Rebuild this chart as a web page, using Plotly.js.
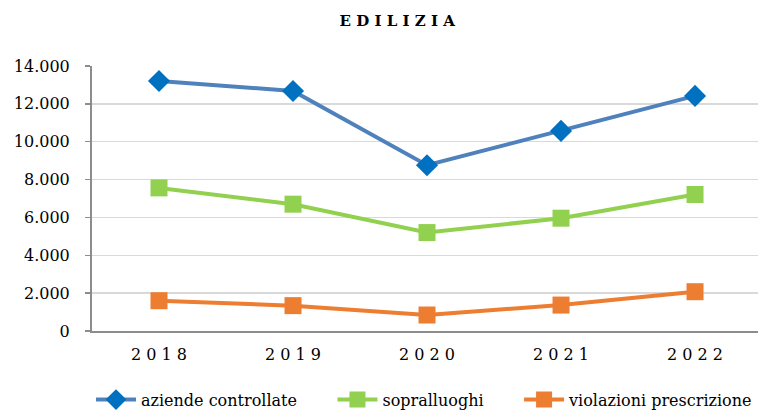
<!DOCTYPE html>
<html><head><meta charset="utf-8">
<script src="https://cdn.plot.ly/plotly-3.0.1.min.js"></script>
<style>html,body{margin:0;padding:0;background:#fff}#chart{width:758px;height:412px}</style>
</head><body><div id="chart"></div>
<script>
const years = ['2018','2019','2020','2021','2022'];
const yearLabels = ['2 0 1 8','2 0 1 9','2 0 2 0','2 0 2 1','2 0 2 2'];
const seriesNames = ['aziende controllate', 'sopralluoghi', 'violazioni prescrizione'];
const aziende = [13210, 12680, 8760, 10570, 12420];
const sopralluoghi = [7560, 6700, 5200, 5960, 7210];
const violazioni = [1600, 1340, 845, 1370, 2075];
const yTicks = [0, 2000, 4000, 6000, 8000, 10000, 12000, 14000];

const font = 'DejaVu Serif';
const pad = n => '\u00a0'.repeat(n);
const traces = [
  {x: years, y: aziende, name: seriesNames[0] + pad(6), mode: 'lines+markers',
   line: {color: '#4f81bd', width: 4}, marker: {symbol: 'diamond', size: 17, color: '#0070c0'}},
  {x: years, y: sopralluoghi, name: seriesNames[1] + pad(6), mode: 'lines+markers',
   line: {color: '#92d050', width: 4}, marker: {symbol: 'square', size: 17, color: '#92d050'}},
  {x: years, y: violazioni, name: seriesNames[2], mode: 'lines+markers',
   line: {color: '#ed7d31', width: 4}, marker: {symbol: 'square', size: 17, color: '#ed7d31'}}
];
const layout = {
  width: 758, height: 412,
  margin: {l: 92, r: 0, t: 66, b: 81},
  separators: ',.',
  paper_bgcolor: '#fff', plot_bgcolor: '#fff',
  font: {family: font, color: '#000', size: 16},
  title: {text: '<b>E D I L I Z I A</b>', x: 0.524, xanchor: 'center', y: 0.95, yanchor: 'middle',
          font: {family: font, size: 15, color: '#000'}},
  showlegend: true,
  legend: {orientation: 'h', x: 0.022, xanchor: 'left', yref: 'container', y: 0.03, yanchor: 'middle',
           font: {family: font, size: 16, color: '#000'}, itemwidth: 40, tracegroupgap: 0},
  xaxis: {type: 'category', range: [-0.5, 4.47], tickvals: years, ticktext: yearLabels,
          showgrid: false, showline: true, linecolor: '#8c8c8c', linewidth: 2, ticks: '',
          tickfont: {family: font, size: 16, color: '#000'}, ticklabelstandoff: 8, zeroline: false, fixedrange: true},
  yaxis: {range: [0, 14000], tickvals: yTicks, tickformat: ',d', showgrid: true, gridcolor: '#d9d9d9',
          gridwidth: 1.5, showline: true, linecolor: '#8c8c8c', linewidth: 2, ticks: 'outside', ticklen: 5,
          tickcolor: '#8c8c8c', tickwidth: 1.5, zeroline: false, ticklabelstandoff: 12,
          tickfont: {family: font, size: 16, color: '#000'}, fixedrange: true}
};
Plotly.newPlot('chart', traces, layout, {displayModeBar: false, staticPlot: true});
</script></body></html>
